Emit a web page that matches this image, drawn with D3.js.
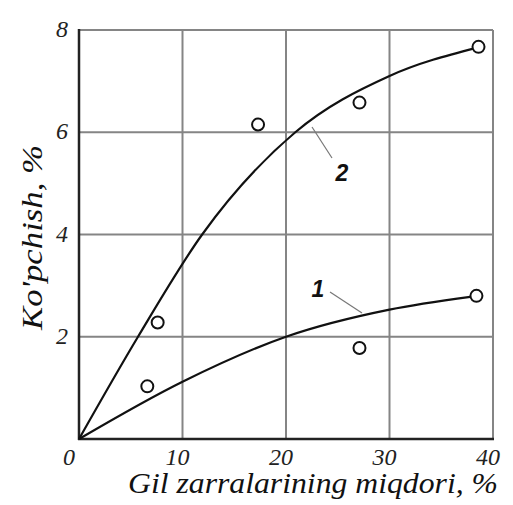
<!DOCTYPE html>
<html>
<head>
<meta charset="utf-8">
<script src="https://cdn.jsdelivr.net/npm/d3@7"></script>
</head>
<body style="margin:0">
<svg id="chart" width="513" height="505"></svg>
<script>
// Axis ticks
const xTicks = [0, 10, 20, 30, 40];
const yTicks = [0, 2, 4, 6, 8];

// Measured points, series 1 and 2
const series1X = [6.6, 27.1, 38.4];
const series1Y = [1.03, 1.78, 2.80];
const series2X = [7.6, 17.3, 27.1, 38.6];
const series2Y = [2.28, 6.15, 6.58, 7.67];

// Smoothed trend curves
const curve1X = [0, 10, 20, 30, 37.8];
const curve1Y = [0, 1.12, 2.0, 2.53, 2.78];
const curve2X = [0, 5.7, 11.9, 20.9, 30, 38.4];
const curve2Y = [0, 2.0, 4.0, 6.0, 7.1, 7.65];

const SERIF = "Liberation Serif";
const SANS = "Liberation Sans";

const svg = d3.select("#chart");
const x = d3.scaleLinear().domain([0, 40]).range([79, 493]);
const y = d3.scaleLinear().domain([0, 8]).range([439, 30]);

// Grid
const grid = svg.append("g").attr("stroke", "#858585").attr("stroke-width", 2);
grid.selectAll("line.v").data(xTicks.slice(1)).join("line")
  .attr("x1", d => x(d)).attr("x2", d => x(d))
  .attr("y1", y(0)).attr("y2", y(8));
grid.selectAll("line.h").data(yTicks.slice(1)).join("line")
  .attr("x1", x(0)).attr("x2", x(40))
  .attr("y1", d => y(d)).attr("y2", d => y(d));

// Main axes (left and bottom)
const axes = svg.append("g").attr("stroke", "#222").attr("stroke-width", 2.5);
axes.append("line").attr("x1", x(0)).attr("x2", x(0)).attr("y1", y(0) + 1).attr("y2", y(8) - 1);
axes.append("line").attr("x1", x(0) - 1).attr("x2", x(40) + 1).attr("y1", y(0)).attr("y2", y(0));

// Tick labels
svg.append("g").selectAll("text").data(xTicks).join("text")
  .attr("font-family", SERIF).attr("font-style", "italic").attr("font-size", 24).attr("fill", "#222")
  .attr("x", d => d === 0 ? x(d) - 10 : x(d) - 5)
  .attr("y", 465)
  .attr("text-anchor", "middle")
  .text(d => d);
svg.append("g").selectAll("text").data(yTicks.slice(1)).join("text")
  .attr("font-family", SERIF).attr("font-style", "italic").attr("font-size", 24).attr("fill", "#222")
  .attr("x", 68)
  .attr("y", d => y(d) + 7)
  .attr("text-anchor", "end")
  .text(d => d);

// Axis titles
svg.append("text")
  .attr("font-family", SERIF).attr("font-style", "italic").attr("font-size", 30).attr("fill", "#111")
  .attr("x", 128).attr("y", 493)
  .attr("textLength", 370).attr("lengthAdjust", "spacingAndGlyphs")
  .text("Gil zarralarining miqdori, %");
svg.append("text")
  .attr("font-family", SERIF).attr("font-style", "italic").attr("font-size", 30).attr("fill", "#111")
  .attr("transform", "translate(42,330) rotate(-90)")
  .attr("textLength", 185).attr("lengthAdjust", "spacingAndGlyphs")
  .text("Ko'pchish, %");

// Curves
const line = d3.line().x(d => x(d[0])).y(d => y(d[1])).curve(d3.curveMonotoneX);
[[curve1X, curve1Y], [curve2X, curve2Y]].forEach(([cx, cy]) => {
  svg.append("path")
    .datum(cx.map((v, i) => [v, cy[i]]))
    .attr("d", line)
    .attr("fill", "none")
    .attr("stroke", "#111")
    .attr("stroke-width", 2.2);
});

// Leader lines and curve numbers
const leader = svg.append("g").attr("stroke", "#777").attr("stroke-width", 1.2);
leader.append("line").attr("x1", 330).attr("y1", 292).attr("x2", 362).attr("y2", 313);
leader.append("line").attr("x1", 312).attr("y1", 127).attr("x2", 332).attr("y2", 158);
svg.append("text").attr("font-family", SANS).attr("font-style", "italic").attr("font-size", 23).attr("fill", "#111")
  .attr("font-weight", "bold")
  .attr("x", 318).attr("y", 297).attr("text-anchor", "middle").text("1");
svg.append("text").attr("font-family", SANS).attr("font-style", "italic").attr("font-size", 23).attr("fill", "#111")
  .attr("font-weight", "bold")
  .attr("x", 342).attr("y", 181).attr("text-anchor", "middle").text("2");

// Data points
const pts = series1X.map((v, i) => [v, series1Y[i]])
  .concat(series2X.map((v, i) => [v, series2Y[i]]));
svg.append("g").selectAll("circle").data(pts).join("circle")
  .attr("cx", d => x(d[0])).attr("cy", d => y(d[1]))
  .attr("r", 6)
  .attr("fill", "#fff")
  .attr("stroke", "#111")
  .attr("stroke-width", 2);
</script>
</body>
</html>
